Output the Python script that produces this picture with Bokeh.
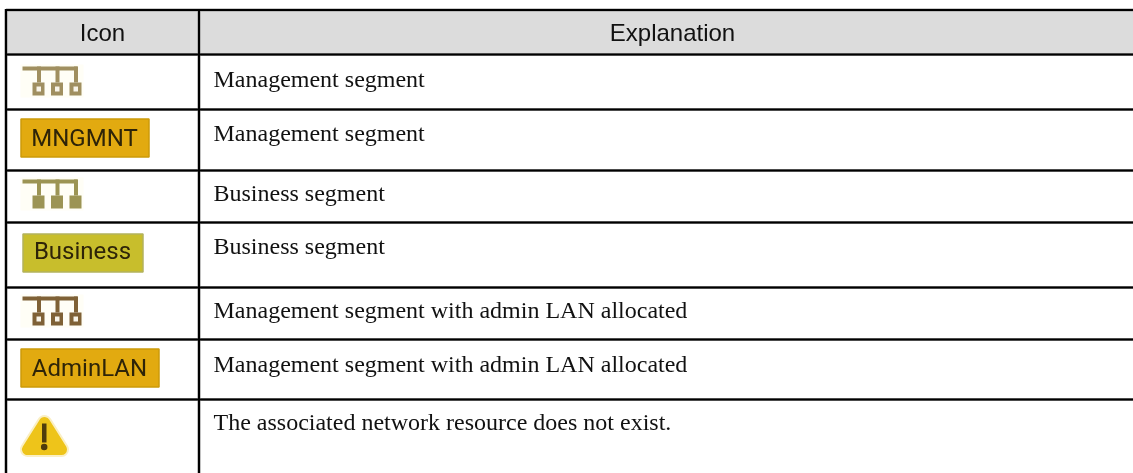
from bokeh.plotting import figure
from bokeh.models import Range1d
from bokeh.core.properties import value
from bokeh.embed import file_html
from bokeh.resources import INLINE

headers = ["Icon", "Explanation"]
explanations = ["Management segment", "Management segment", "Business segment", "Business segment",
                "Management segment with admin LAN allocated", "Management segment with admin LAN allocated",
                "The associated network resource does not exist."]
badge_labels = ["MNGMNT", "Business", "AdminLAN"]

W, H = 1133, 473
row_lines = [9.5, 54, 109, 170, 222, 287, 339, 399]
col_lines = [5.5, 198.5]
text_anchor_y = [78, 132, 192, 245, 309, 363, 421]

p = figure(width=W, height=H, x_range=Range1d(0, W), y_range=Range1d(H, 0),
           output_backend="svg", toolbar_location=None, min_border=0,
           styles={"position": "fixed", "left": "0px", "top": "0px"},
           outline_line_color=None, background_fill_color="white",
           border_fill_color="white")
p.xaxis.visible = False
p.yaxis.visible = False
p.grid.visible = False

# header band
p.quad(left=[col_lines[0]], right=[W], top=[row_lines[0]], bottom=[row_lines[1]],
       fill_color="#dcdcdc", line_color=None)

# rules: soft grey fringe under a black core
for colour, width in (("#999999", 3.2), ("#000000", 2)):
    p.segment(x0=[col_lines[0]] * len(row_lines), x1=[W] * len(row_lines), y0=row_lines, y1=row_lines,
              line_color=colour, line_width=width)
    p.segment(x0=col_lines, x1=col_lines, y0=[row_lines[0] - 1] * 2, y1=[H] * 2,
              line_color=colour, line_width=width)

# header text
p.text(x=[102, 672], y=[32, 32], text=headers, text_font=value("Liberation Sans"),
       text_font_size="24px", text_color="#111111", text_align="center", text_baseline="alphabetic")
# explanation text
p.text(x=[213] * len(explanations), y=text_anchor_y, text=explanations, text_font=value("Liberation Serif"),
       text_font_size="24px", text_color="#111111", text_align="left", text_baseline="alphabetic")


def network(top, color, hollow):
    p.quad(left=[20], right=[83], top=[top - 2], bottom=[top + 31], fill_color="#fffdf0",
           fill_alpha=0.6, line_color=None)
    p.quad(left=[22], right=[77], top=[top], bottom=[top + 4], fill_color=color, line_color=None)
    stems = [36.5, 55, 73.5]
    p.quad(left=stems, right=[s + 4 for s in stems], top=[top] * 3, bottom=[top + 16] * 3,
           fill_color=color, line_color=None)
    lefts = [32, 50.5, 69]
    p.quad(left=lefts, right=[l + 12 for l in lefts], top=[top + 16] * 3, bottom=[top + 29] * 3,
           fill_color=color, line_color=None)
    if hollow:
        p.quad(left=[l + 4 for l in lefts], right=[l + 8.5 for l in lefts], top=[top + 20] * 3,
               bottom=[top + 25] * 3, fill_color="#f8f4e8", line_color=None)


network(66, "#a08f60", True)
network(179, "#9c9454", False)
network(296, "#7f6136", True)


def badge(left, right, top, bottom, text_mid, fill, edge, label):
    p.quad(left=[left], right=[right], top=[top], bottom=[bottom], fill_color=fill,
           line_color=edge, line_width=1.5)
    p.text(x=[(left + right) / 2 - 0.5], y=[text_mid], text=[label], text_font=value("Roboto"),
           text_font_size="24px", text_color="#2e2408", text_align="center", text_baseline="middle")


badge(20.5, 148.5, 118.5, 156.5, 137.5, "#e2aa10", "#cc9a08", badge_labels[0])
badge(22.5, 142.5, 233.5, 271.5, 250.5, "#c8be2c", "#b3b25c", badge_labels[1])
badge(20.5, 158.5, 348.5, 386.5, 367, "#e2aa10", "#cc9a08", badge_labels[2])

# warning icon: a pale halo, then the rounded body
tri_x = [44, 27, 61]
tri_y = [422, 449, 449]
p.patch(x=tri_x, y=tri_y, fill_color="#f5e08a", fill_alpha=0.5, line_color="#f5e08a", line_alpha=0.5,
        line_width=15, line_join="round")
p.patch(x=tri_x, y=tri_y, fill_color="#eec41a", line_color="#eec41a", line_width=11, line_join="round")
p.quad(left=[41.5], right=[46], top=[423], bottom=[442], fill_color="#4f3c0c", line_color=None)
p.scatter(x=[43.7], y=[446.5], size=6.5, marker="circle", fill_color="#4f3c0c", line_color=None)

open("out.html", "w").write(file_html(p, INLINE))
